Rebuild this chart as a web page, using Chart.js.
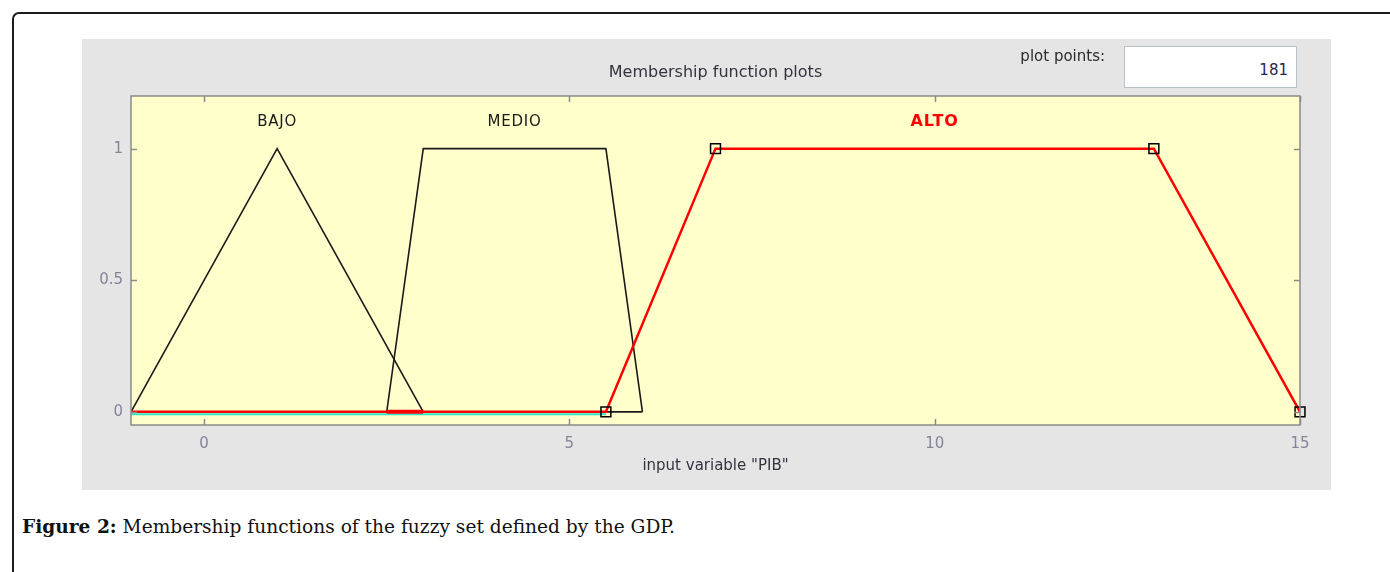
<!DOCTYPE html>
<html>
<head>
<meta charset="utf-8">
<script src="https://cdn.jsdelivr.net/npm/chart.js@4.4.1/dist/chart.umd.min.js"></script>
<style>
  html, body { margin: 0; padding: 0; width: 1390px; height: 572px; overflow: hidden; background: #ffffff; position: relative; }
  #frame { position: absolute; left: 12px; top: 12px; width: 1420px; height: 620px; border: 2px solid #1c1c1c; border-radius: 7px; box-sizing: border-box; }
  #panel { position: absolute; left: 82px; top: 39px; width: 1249px; height: 451px; background: #e5e5e5; }
  #pp-label { position: absolute; right: 285px; top: 47px; font: 15px "DejaVu Sans", sans-serif; line-height: 18px; color: #2a2a2a; white-space: nowrap; }
  #pp-box { position: absolute; left: 1124px; top: 46px; width: 173px; height: 42px; box-sizing: border-box; border: 1px solid #b8c0c8; background: #ffffff; text-align: right; padding: 5px 8px 0 0; font: 15px "DejaVu Sans", sans-serif; line-height: 36px; color: #262650; }
  #caption { position: absolute; left: 22px; top: 515px; font: 18.6px "DejaVu Serif", serif; line-height: 24px; color: #111; white-space: nowrap; }
  #caption b { font-weight: bold; }
</style>
</head>
<body>
<div id="frame"></div>
<div id="panel"><canvas id="mf"></canvas></div>
<div id="pp-label">plot points:</div>
<div id="pp-box"></div>
<div id="caption"><b>Figure 2:</b> Membership functions of the fuzzy set defined by the GDP.</div>
<script>
// Input variable "PIB" and its three membership functions
const xTicks = [0, 5, 10, 15];
const yTicks = [0, 0.5, 1];
const bajoX = [-1, 1, 3];
const bajoY = [0, 1, 0];
const medioX = [2.5, 3, 5.5, 6];
const medioY = [0, 1, 1, 0];
const medioFloorX = [5.5, 6];
const medioFloorY = [0, 0];
const altoX = [-1, 5.5, 7, 13, 15];
const altoY = [0, 0, 1, 1, 0];
const altoHandleX = [5.5, 7, 13, 15];
const altoHandleY = [0, 1, 1, 0];
const baseX = [-1, 5.5];
const baseY = [0, 0];
const overlapX = [2.5, 3];
const overlapY = [0, 0];
const mfNames = ['BAJO', 'MEDIO', 'ALTO'];
const mfLabelX = [1, 4.25, 10];
const mfLabelY = 1.1;
const plotPoints = 181;

document.getElementById('pp-box').textContent = plotPoints;

const pts = (xs, ys) => xs.map((x, i) => ({ x: x, y: ys[i] }));
const UI_FONT = '"DejaVu Sans", sans-serif';
Chart.defaults.font.family = UI_FONT;
Chart.defaults.font.size = 15;

// Yellow axes background, boxed frame, inward ticks and MF names
const axesDecor = {
  id: 'axesDecor',
  beforeDatasetsDraw(chart) {
    const { ctx, chartArea: a } = chart;
    ctx.save();
    ctx.fillStyle = '#ffffcc';
    ctx.fillRect(a.left, a.top, a.right - a.left, a.bottom - a.top);
    ctx.restore();
  },
  afterDraw(chart) {
    const { ctx, chartArea: a, scales } = chart;
    ctx.save();
    ctx.strokeStyle = '#8a8a8a';
    ctx.lineWidth = 1.5;
    ctx.beginPath();
    xTicks.forEach(v => {
      const px = Math.round(scales.x.getPixelForValue(v)) + 0.5;
      ctx.moveTo(px, a.bottom); ctx.lineTo(px, a.bottom - 6);
      ctx.moveTo(px, a.top); ctx.lineTo(px, a.top + 6);
    });
    yTicks.forEach(v => {
      const py = Math.round(scales.y.getPixelForValue(v)) + 0.5;
      ctx.moveTo(a.left, py); ctx.lineTo(a.left + 6, py);
      ctx.moveTo(a.right, py); ctx.lineTo(a.right - 6, py);
    });
    ctx.stroke();
    ctx.strokeRect(a.left, a.top, a.right - a.left, a.bottom - a.top);
    ctx.textAlign = 'center';
    ctx.textBaseline = 'middle';
    mfNames.forEach((name, i) => {
      const alto = name === 'ALTO';
      ctx.fillStyle = alto ? '#ff0000' : '#1a1a1a';
      ctx.font = (alto ? 'bold 16px ' : '15px ') + UI_FONT;
      ctx.letterSpacing = alto ? '1px' : '0.8px';
      ctx.fillText(name, scales.x.getPixelForValue(mfLabelX[i]), scales.y.getPixelForValue(mfLabelY));
    });
    ctx.restore();
  }
};

// The turquoise trace along zero sits just under the selected (red) function
const shiftDown = {
  id: 'shiftDown',
  beforeDatasetDraw(chart, args) {
    const shift = chart.data.datasets[args.index].shiftY;
    if (shift) { chart.ctx.save(); chart.ctx.translate(0, shift); }
  },
  afterDatasetDraw(chart, args) {
    if (chart.data.datasets[args.index].shiftY) chart.ctx.restore();
  }
};

const line = (data, color, width) => ({
  data: data, borderColor: color, borderWidth: width, pointRadius: 0,
  fill: false, tension: 0, showLine: true
});

new Chart(document.getElementById('mf'), {
  type: 'scatter',
  data: {
    datasets: [
      Object.assign(line(pts(altoHandleX, altoHandleY), '#000000', 0), {
        showLine: false, pointStyle: 'rect', pointRadius: 7, pointBorderWidth: 1.5,
        pointBorderColor: '#000000', pointBackgroundColor: 'rgba(0,0,0,0)', clip: false
      }),
      line(pts(overlapX, overlapY), '#ff0000', 4),
      line(pts(altoX, altoY), '#ff0000', 2.5),
      Object.assign(line(pts(baseX, baseY), '#2ee6c8', 2), { shiftY: 2.5, clip: false }),
      line(pts(medioFloorX, medioFloorY), '#1a1a1a', 1.6),
      line(pts(medioX, medioY), '#1a1a1a', 1.6),
      line(pts(bajoX, bajoY), '#1a1a1a', 1.6)
    ]
  },
  options: {
    responsive: true,
    maintainAspectRatio: false,
    animation: false,
    events: [],
    layout: { padding: { left: 0, top: 0, right: 31, bottom: 0 } },
    plugins: {
      legend: { display: false },
      tooltip: { enabled: false },
      title: {
        display: true,
        text: 'Membership function plots',
        fullSize: false,
        color: '#333340',
        font: { size: 16, weight: 'normal' },
        padding: { top: 24.5, bottom: 13.3 }
      }
    },
    scales: {
      x: {
        type: 'linear', min: -1, max: 15,
        afterBuildTicks: s => { s.ticks = xTicks.map(v => ({ value: v })); },
        afterFit: s => { s.height = 65; },
        grid: { display: false, drawTicks: false },
        border: { display: false },
        ticks: { color: '#84849a', padding: 10, font: { size: 15 }, callback: v => String(v) },
        title: {
          display: true, text: 'input variable "PIB"', color: '#333340',
          font: { size: 15 }, padding: { top: 0, bottom: 14.6 }
        }
      },
      y: {
        type: 'linear', min: -0.05, max: 1.2,
        afterBuildTicks: s => { s.ticks = yTicks.map(v => ({ value: v })); },
        afterFit: s => { s.width = 49; },
        grid: { display: false, drawTicks: false },
        border: { display: false },
        ticks: { color: '#84849a', padding: 8, font: { size: 15 }, callback: v => String(v) }
      }
    }
  },
  plugins: [axesDecor, shiftDown]
});
</script>
</body>
</html>
